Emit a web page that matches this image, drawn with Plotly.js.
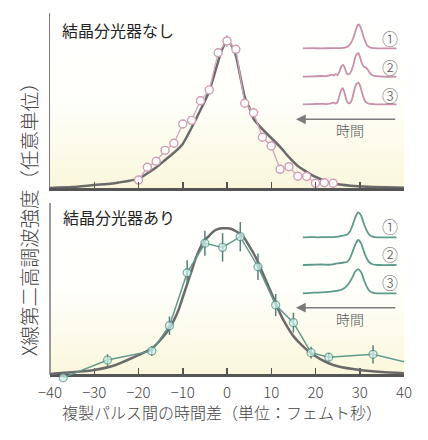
<!DOCTYPE html>
<html><head><meta charset="utf-8">
<script src="https://cdn.plot.ly/plotly-3.0.1.min.js"></script>
<style>html,body{margin:0;padding:0;background:#fff}#chart{width:428px;height:440px}</style>
</head><body><div id="chart"></div>
<script>
// ---- data ----
// top panel (without crystal spectrometer)
const topDelay = [-20,-18,-16,-14,-12,-10,-8,-6,-4,-2,0,2,4,6,8,10,12,14,16,18,20,22,24];
const topSignal = [0.054,0.141,0.182,0.256,0.304,0.435,0.460,0.593,0.667,0.920,1.0,0.943,0.576,0.512,0.345,0.286,0.127,0.145,0.080,0.078,0.032,0.036,0.032];
const topErr = [0,0,0,0,0,0,0,0,0,0,0.04,0,0,0,0,0,0,0,0,0,0,0,0];
const topFitDelay = [-40,-35,-30,-26,-24,-22,-20,-18,-16,-14,-12,-10,-8,-6,-4,-2,-1,0,1,2,3,4,5,6,8,10,12,14,16,18,20,22,24,28,32,40];
const topFit = [0.0,0.006,0.02,0.03,0.04,0.05,0.062,0.10,0.14,0.19,0.24,0.30,0.41,0.53,0.66,0.86,0.95,1.0,0.97,0.90,0.76,0.62,0.55,0.47,0.40,0.34,0.28,0.21,0.15,0.11,0.075,0.05,0.03,0.015,0.008,0.002];
// bottom panel (with crystal spectrometer)
const botDelay = [-37,-27,-17,-13,-9,-5,-1,3,7,11,15,19,23,33,44];
const botSignal = [-0.018,0.102,0.164,0.336,0.697,0.898,0.870,0.943,0.738,0.477,0.357,0.152,0.121,0.141,0.062];
const botErr = [0,0.039,0.034,0.063,0.085,0.085,0.097,0.10,0.09,0.076,0.068,0.04,0.028,0.062,0];
const botFitDelay = [-40,-35,-30,-25,-20,-17,-15,-13,-11,-10,-9,-8,-7,-6,-5,-4,-3,-2,-1,0,1,2,3,4,5,6,7,8,9,10,11,12,13,15,17,19,21,23,25,30,35,40];
const botFit = [0.007,0.018,0.034,0.07,0.136,0.18,0.24,0.318,0.44,0.53,0.62,0.71,0.80,0.87,0.92,0.95,0.98,0.995,1.0,1.0,0.995,0.98,0.96,0.93,0.88,0.83,0.77,0.70,0.63,0.56,0.49,0.42,0.36,0.265,0.20,0.148,0.11,0.08,0.06,0.034,0.02,0.012];
// inset pulse shapes (arbitrary time, normalised intensity)
const pinkT1 = [0,10,20,30,40,45,48,51,54,56,58,59.5,61,63,65,67,69,72,76,85,100];
const pinkV1 = [0,0.005,0,0.005,0.01,0.03,0.08,0.2,0.45,0.7,0.93,1.0,0.93,0.72,0.45,0.25,0.1,0.03,0.01,0,0];
const pinkT2 = [0,10,20,25,28,31,33,35,37,39,41,43,45,47,49,51,54,56,58,59.5,61,63,65,67,69,71,74,78,85,100];
const pinkV2 = [0,0.01,0.03,0.02,0.05,0.09,0.05,0.11,0.07,0.2,0.42,0.49,0.35,0.12,0.1,0.18,0.5,0.82,0.96,0.975,0.8,0.55,0.42,0.38,0.3,0.18,0.06,0.02,0,0];
const pinkT3 = [0,10,20,25,30,33,35,37,39,41,42.6,44,46,48,50,52,54,56,58,59.5,61,63,65,67,70,75,85,100];
const pinkV3 = [0,0.01,0.02,0.01,0.04,0.07,0.03,0.1,0.35,0.6,0.67,0.55,0.25,0.06,0.05,0.15,0.45,0.75,0.88,0.9,0.78,0.5,0.25,0.1,0.03,0.01,0,0];
const tealT1 = [0,8,16,24,32,38,43,47,50,53,56,59,62,65,68,71,75,80,100];
const tealV1 = [0,0.01,0,0.01,0.01,0.03,0.07,0.1,0.22,0.48,0.8,1.0,0.88,0.55,0.28,0.1,0.02,0,0];
const tealT2 = [0,10,20,28,34,40,44,47,50,53,56,59,62,65,68,71,75,80,100];
const tealV2 = [0,0.01,0.02,0.01,0.04,0.08,0.1,0.12,0.25,0.52,0.82,1.0,0.88,0.55,0.27,0.1,0.02,0,0];
const tealT3 = [0,8,16,24,30,36,40,44,47,50,53,56,59,62,65,68,71,75,80,100];
const tealV3 = [0,0.02,0.03,0.05,0.07,0.1,0.13,0.2,0.3,0.45,0.65,0.88,0.97,0.85,0.55,0.28,0.1,0.02,0,0];
const insetLabels = ['①','②','③'];
const topTitle = '結晶分光器なし';
const botTitle = '結晶分光器あり';
const xTitle = '複製パルス間の時間差（単位：フェムト秒）';
const yTitle = 'X線第二高調波強度（任意単位）';
const timeLabel = '時間';

// ---- layout helpers (pixel -> paper) ----
const W=428,H=440,L=50,R=24,T=13,B=61;
const PW=W-L-R, PH=H-T-B;
const px = v => (v-L)/PW;
const py = v => (H-B-v)/PH;
const FONT = '"Noto Sans CJK JP", "Noto Sans", sans-serif';
const FW = 300;
const BASE2 = 375;            // pixel row of bottom x axis
const UNIT2 = 146.7;          // pixels per unit in bottom panel

function gradURL(){
  const c=document.createElement('canvas'); c.width=4; c.height=300;
  const g=c.getContext('2d'); const gr=g.createLinearGradient(0,0,0,300);
  gr.addColorStop(0,'#ffffff'); gr.addColorStop(0.5,'#fffffb'); gr.addColorStop(1,'#fbf7dc');
  g.fillStyle=gr; g.fillRect(0,0,4,300); return c.toDataURL();
}
const grad = gradURL();

const topDom=[py(188),1], botDom=[0,py(203)];
const y2min = -(H-B-BASE2)/UNIT2, y2max=(BASE2-203)/UNIT2;
const pink='#cf9db5', pinkLine='#d4a6bc', teal='#5f9a8c', gray='#6a6a6a';

const traces = [
  {x:topFitDelay,y:topFit,xaxis:'x',yaxis:'y',mode:'lines',line:{color:gray,width:2.5,shape:'spline',smoothing:0.6},hoverinfo:'skip'},
  {x:topDelay,y:topSignal,xaxis:'x',yaxis:'y',mode:'lines+markers',cliponaxis:false,
   line:{color:pinkLine,width:1.3},marker:{size:8,color:'#ffffff',line:{color:pink,width:1.4}},
   error_y:{type:'data',array:topErr,visible:true,color:pink,thickness:1.3,width:0}},
  {x:botFitDelay,y:botFit,xaxis:'x2',yaxis:'y2',mode:'lines',line:{color:gray,width:2.5,shape:'spline',smoothing:0.6},hoverinfo:'skip'},
  {x:botDelay,y:botSignal,xaxis:'x2',yaxis:'y2',mode:'lines+markers',cliponaxis:false,
   line:{color:teal,width:1.5},
   marker:{size:botDelay.map(d=>d>40?0:8),color:'#d2f3ef',line:{color:'#4f8e80',width:1.3}},
   error_y:{type:'data',array:botErr,visible:true,color:'#56807a',thickness:1.5,width:0}}
];
const pinkSets=[[pinkT1,pinkV1],[pinkT2,pinkV2],[pinkT3,pinkV3]];
const tealSets=[[tealT1,tealV1],[tealT2,tealV2],[tealT3,tealV3]];
pinkSets.forEach((s,i)=>traces.push({x:s[0],y:s[1],xaxis:'x3',yaxis:'y'+(3+i),mode:'lines',
  line:{color:'#c98fab',width:1.8,shape:'spline',smoothing:0.7},hoverinfo:'skip'}));
tealSets.forEach((s,i)=>traces.push({x:s[0],y:s[1],xaxis:'x4',yaxis:'y'+(6+i),mode:'lines',
  line:{color:'#5c9a8b',width:1.8,shape:'spline',smoothing:0.7},hoverinfo:'skip'}));

const ax = {range:[-40,40],dtick:10,tick0:-40,ticks:'inside',ticklen:6,tickwidth:1.5,tickcolor:'#555',
  showline:true,linecolor:'#555',linewidth:2.5,zeroline:false,showgrid:false,fixedrange:true};
const ay = {showline:true,linecolor:'#7a7a7a',linewidth:1.5,ticks:'',showticklabels:false,zeroline:false,showgrid:false,fixedrange:true};

const layout = {
  width:W,height:H,margin:{l:L,r:R,t:T,b:B},paper_bgcolor:'#ffffff',plot_bgcolor:'rgba(0,0,0,0)',
  showlegend:false,font:{family:FONT,color:'#333',weight:FW},
  xaxis:Object.assign({},ax,{anchor:'y',showticklabels:false}),
  yaxis:Object.assign({},ay,{domain:topDom,range:[0,1.19]}),
  xaxis2:Object.assign({},ax,{anchor:'free',position:py(BASE2),layer:'below traces',ticklabelstandoff:3,
    tickfont:{size:15,color:'#444',family:FONT,weight:FW}}),
  yaxis2:Object.assign({},ay,{domain:botDom,range:[y2min,y2max],showline:false}),
  images:[
    {source:grad,xref:'paper',yref:'paper',x:0,y:topDom[1],sizex:1,sizey:topDom[1]-topDom[0],xanchor:'left',yanchor:'top',sizing:'stretch',layer:'below'},
    {source:grad,xref:'paper',yref:'paper',x:0,y:botDom[1],sizex:1,sizey:botDom[1]-py(BASE2),xanchor:'left',yanchor:'top',sizing:'stretch',layer:'below'}
  ],
  shapes:[{type:'line',xref:'paper',yref:'paper',x0:0,x1:0,y0:py(BASE2),y1:botDom[1],line:{color:'#7a7a7a',width:1.5},layer:'below'}],
  annotations:[]
};
const insetX=[px(302.7),px(396.7)];
layout.xaxis3={domain:insetX,range:[0,100],visible:false,anchor:'y3',fixedrange:true};
layout.xaxis4={domain:insetX,range:[0,100],visible:false,anchor:'y6',fixedrange:true};
const stripDom=(base,unit)=>[py(base+0.15*unit),py(base-1.1*unit)];
[48.3,76.7,104.3].forEach((b,i)=>{layout['yaxis'+(3+i)]={domain:stripDom(b,24),range:[-0.15,1.1],visible:false,anchor:'x3',fixedrange:true};});
[237.3,265,293.3].forEach((b,i)=>{layout['yaxis'+(6+i)]={domain:stripDom(b,25),range:[-0.15,1.1],visible:false,anchor:'x4',fixedrange:true};});

const A=layout.annotations;
const txt=(x,y,text,size,color,extra,w)=>A.push(Object.assign({xref:'paper',yref:'paper',x:x,y:y,text:text,showarrow:false,
  font:{size:size,color:color,family:FONT,weight:w||FW},xanchor:'center',yanchor:'middle'},extra||{}));
txt(px(60),py(30),topTitle,16,'#222',{xanchor:'left'},400);
txt(px(61),py(216.5),botTitle,16,'#222',{xanchor:'left'},400);
txt(px(222),py(412),xTitle,16,'#444');
txt(px(28),py(214),yTitle,19.5,'#444',{textangle:-90});
[38.3,66.7,95].forEach((y,i)=>txt(px(389.5),py(y),insetLabels[i],16,'#555'));
[225.7,254.3,282.3].forEach((y,i)=>txt(px(389.5),py(y),insetLabels[i],16,'#555'));
txt(px(350),py(130),timeLabel,14,'#555');
txt(px(350),py(318.5),timeLabel,14,'#555');
[119.3,307.7].forEach(y=>A.push({xref:'paper',yref:'paper',x:px(296),y:py(y),ax:100.7,ay:0,text:'',showarrow:true,
  arrowhead:2,arrowsize:1.3,arrowwidth:1.5,arrowcolor:'#7a7a7a'}));

Plotly.newPlot('chart',traces,layout,{displayModeBar:false,staticPlot:true});
</script></body></html>
